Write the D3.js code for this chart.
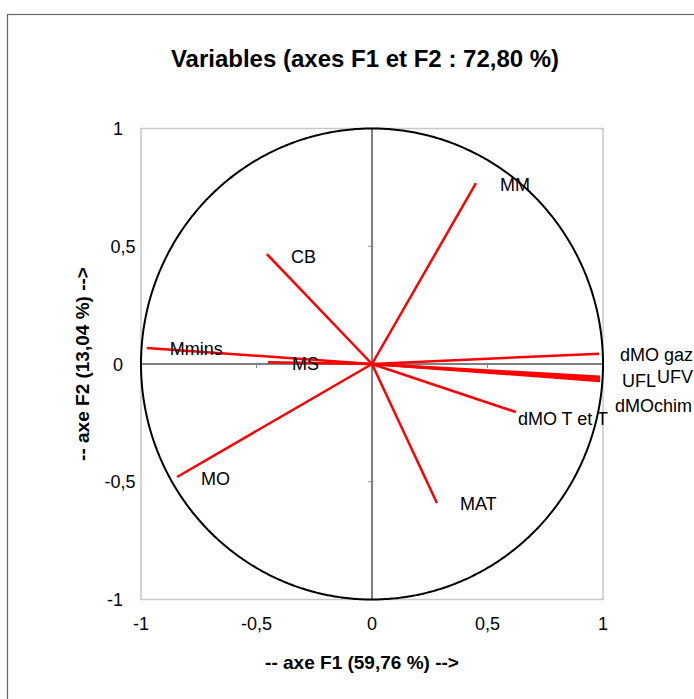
<!DOCTYPE html>
<html lang="fr">
<head>
<meta charset="utf-8">
<title>Variables (axes F1 et F2)</title>
<script src="https://d3js.org/d3.v7.min.js"></script>
<style>
    body { margin: 0; background: #fff; }
    text { font-family: "Liberation Sans", Arial, sans-serif; fill: #000; }
</style>
</head>
<body>
<div id="chart1"></div>
<script>
    // variable names and coordinates on F1 / F2
    const variables = ["MM", "CB", "Mmins", "MS", "MO", "MAT", "dMO T et T", "dMO gaz", "UFL", "UFV", "dMOchim"]
    const f1 = [0.450, -0.455, -0.975, -0.450, -0.844, 0.281, 0.623, 0.983, 0.987, 0.987, 0.987]
    const f2 = [0.768, 0.467, 0.068, 0.007, -0.480, -0.590, -0.204, 0.044, -0.054, -0.063, -0.072]
    const tickValues = [-1, -0.5, 0, 0.5, 1]

    // label offsets in pixels from the end of each arrow
    const labelShift = {
        "MM": [24, 2], "CB": [24, 3], "Mmins": [23, 1], "MS": [24, 1], "MO": [24, 2],
        "MAT": [23, 1], "dMO T et T": [2, 7], "dMO gaz": [21, 1],
        "UFL": [22, 4], "UFV": [57, -2], "dMOchim": [15, 25]
    }

    const W = 694, H = 699
    const svg = d3.select("#chart1").append("svg")
        .attr("width", W).attr("height", H)

    // outer frame
    svg.append("rect")
        .attr("x", 7.5).attr("y", 14.5)
        .attr("width", 720).attr("height", 720)
        .attr("fill", "none").attr("stroke", "#666").attr("stroke-width", 1.2)

    const x = d3.scaleLinear().domain([-1, 1]).range([141, 603])
    const y = d3.scaleLinear().domain([-1, 1]).range([599.5, 128.5])
    const fmt = d => String(d).replace(".", ",")

    // plot area
    svg.append("rect")
        .attr("x", x(-1)).attr("y", y(1))
        .attr("width", x(1) - x(-1)).attr("height", y(-1) - y(1))
        .attr("fill", "none").attr("stroke", "#c8c8c8").attr("stroke-width", 1.5)

    // axes through the origin
    svg.append("line")
        .attr("x1", x(-1)).attr("x2", x(1)).attr("y1", y(0)).attr("y2", y(0))
        .attr("stroke", "#000").attr("stroke-width", 1)
    svg.append("line")
        .attr("x1", x(0)).attr("x2", x(0)).attr("y1", y(-1)).attr("y2", y(1))
        .attr("stroke", "#000").attr("stroke-width", 1)

    // small ticks on the axes
    svg.selectAll(".xtick").data([-0.5, 0.5]).enter().append("line")
        .attr("x1", d => x(d)).attr("x2", d => x(d))
        .attr("y1", y(0)).attr("y2", y(0) + 4)
        .attr("stroke", "#888")
    svg.selectAll(".ytick").data([-0.5, 0.5]).enter().append("line")
        .attr("x1", x(0) - 4).attr("x2", x(0))
        .attr("y1", d => y(d)).attr("y2", d => y(d))
        .attr("stroke", "#888")

    // tick labels
    svg.selectAll(".xlab").data(tickValues).enter().append("text")
        .attr("x", d => x(d)).attr("y", 630)
        .attr("text-anchor", "middle").attr("font-size", 18)
        .text(fmt)
    // integers sit one decimal place to the left, like the Excel number format
    svg.selectAll(".ylab").data(tickValues).enter().append("text")
        .attr("x", d => Number.isInteger(d) ? 123 : 135.5)
        .attr("y", d => y(d) + 6.5)
        .attr("text-anchor", "end").attr("font-size", 18)
        .text(fmt)

    // correlation circle
    const circle = d3.line().x(d => x(Math.cos(d))).y(d => y(Math.sin(d)))
    svg.append("path")
        .attr("d", circle(d3.range(0, 2 * Math.PI + 0.01, 0.01)))
        .attr("fill", "none").attr("stroke", "#000").attr("stroke-width", 2)

    // vectors
    svg.selectAll(".vec").data(variables).enter().append("line")
        .attr("x1", x(0)).attr("y1", y(0))
        .attr("x2", (d, i) => x(f1[i])).attr("y2", (d, i) => y(f2[i]))
        .attr("stroke", "#ff0000").attr("stroke-width", 2.5)

    svg.selectAll(".lab").data(variables).enter().append("text")
        .attr("x", (d, i) => x(f1[i]) + labelShift[d][0])
        .attr("y", (d, i) => y(f2[i]) + labelShift[d][1])
        .attr("dy", "0.35em")
        .attr("font-size", 18).attr("fill", "#222")
        .text(d => d)

    // titles
    svg.append("text")
        .attr("x", 365).attr("y", 67)
        .attr("text-anchor", "middle").attr("font-size", 24).attr("font-weight", "bold")
        .text("Variables (axes F1 et F2 : 72,80 %)")
    svg.append("text")
        .attr("x", 362).attr("y", 669)
        .attr("text-anchor", "middle").attr("font-size", 19).attr("font-weight", "bold")
        .text("-- axe F1 (59,76 %) -->")
    svg.append("text")
        .attr("transform", "translate(89,364) rotate(-90)")
        .attr("text-anchor", "middle").attr("font-size", 19).attr("font-weight", "bold")
        .text("-- axe F2 (13,04 %) -->")
</script>
</body>
</html>
